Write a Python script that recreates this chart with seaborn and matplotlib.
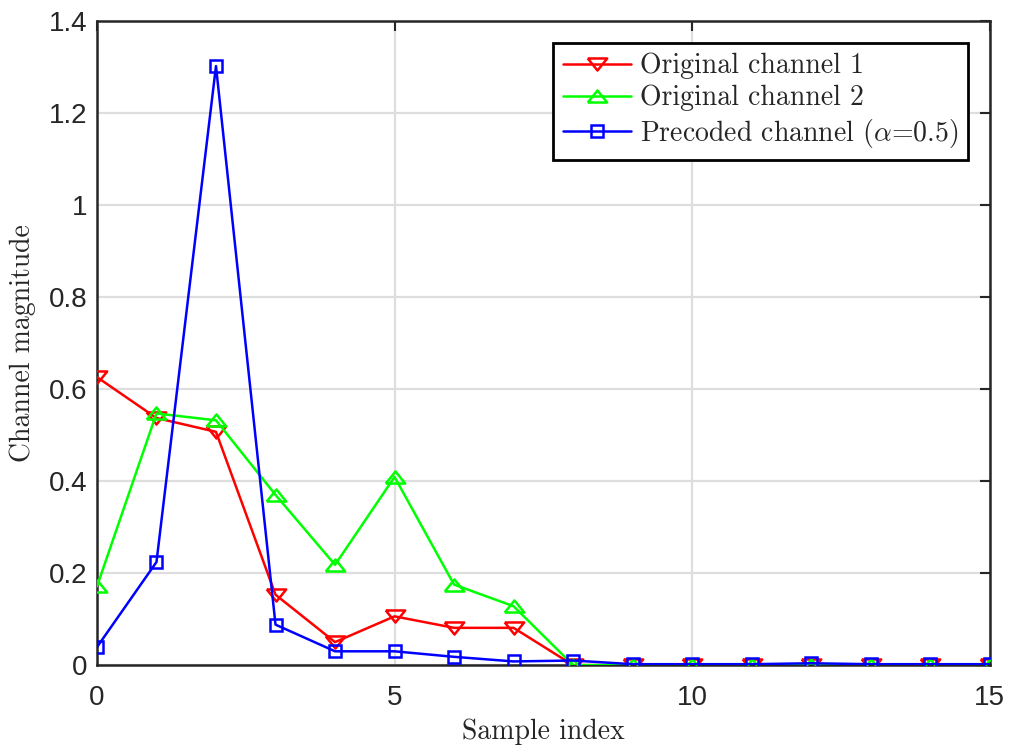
import numpy as np
import pandas as pd
import matplotlib
matplotlib.use("Agg")
import matplotlib.pyplot as plt
import seaborn as sns

sample_index = list(range(16))
orig_ch1 = [0.626, 0.537, 0.507, 0.153, 0.050, 0.106, 0.081, 0.081,
            0.0, 0.0, 0.0, 0.0, 0.0, 0.0, 0.0, 0.0]
orig_ch2 = [0.171, 0.547, 0.532, 0.370, 0.218, 0.409, 0.175, 0.128,
            0.0, 0.0, 0.0, 0.0, 0.0, 0.0, 0.0, 0.0]
precoded = [0.039, 0.224, 1.302, 0.088, 0.030, 0.030, 0.018, 0.008,
            0.010, 0.002, 0.002, 0.002, 0.004, 0.002, 0.002, 0.002]

labels = ["Original channel 1", "Original channel 2",
          r"Precoded channel ($\alpha$=0.5)"]

sns.set_style("white")
plt.rcParams["mathtext.fontset"] = "cm"
plt.rcParams["font.family"] = ["Liberation Sans", "DejaVu Sans"]

# flatter triangles, like matlab's
tri_down = [(-1, 0.62), (1, 0.62), (0, -0.62), (-1, 0.62)]
tri_up = [(-1, -0.62), (1, -0.62), (0, 0.62), (-1, -0.62)]

fig = plt.figure(figsize=(10.12, 7.49), dpi=100)
ax = fig.add_axes([0.0958, 0.112, 0.8822, 0.86])

series = [
    (orig_ch1, "#ff0000", tri_down, 14),
    (orig_ch2, "#00ff00", tri_up, 14),
    (precoded, "#0000ff", "s", 9),
]
for (vals, col, mk, ms), lab in zip(series, labels):
    df = pd.DataFrame({"x": sample_index, "y": vals})
    sns.lineplot(data=df, x="x", y="y", ax=ax, color=col, marker=mk,
                 markersize=ms, markerfacecolor="none", markeredgecolor=col,
                 markeredgewidth=1.8, linewidth=1.8, label=lab, zorder=3)

ax.set_xlim(0, 15)
ax.set_ylim(0, 1.4)
ax.set_xticks([0, 5, 10, 15])
ax.set_yticks(np.arange(0, 1.41, 0.2))
ax.set_yticklabels(["0", "0.2", "0.4", "0.6", "0.8", "1", "1.2", "1.4"])
ax.tick_params(direction="in", length=7, width=1.5, labelsize=20,
               colors="#262626", top=True, right=True)
ax.tick_params(axis="x", pad=14)
ax.tick_params(axis="y", pad=7)
for sp in ax.spines.values():
    sp.set_color("#262626")
    sp.set_linewidth(1.8)
ax.grid(True, color="#dedede", linewidth=1.6)
ax.set_axisbelow(True)

ax.set_xlabel("Sample index", family="cmr10", fontsize=20, color="#262626",
              labelpad=6)
ax.set_ylabel("Channel magnitude", family="cmr10", fontsize=20,
              color="#262626", labelpad=9)

leg = ax.legend(loc="upper right", fancybox=False, framealpha=1,
                edgecolor="black", borderaxespad=0.8, handlelength=2.45,
                prop={"family": "cmr10", "size": 20}, borderpad=0.35,
                labelspacing=0.2, handletextpad=0.3)
leg.get_frame().set_linewidth(2.0)

fig.savefig("out.png", dpi=100)
